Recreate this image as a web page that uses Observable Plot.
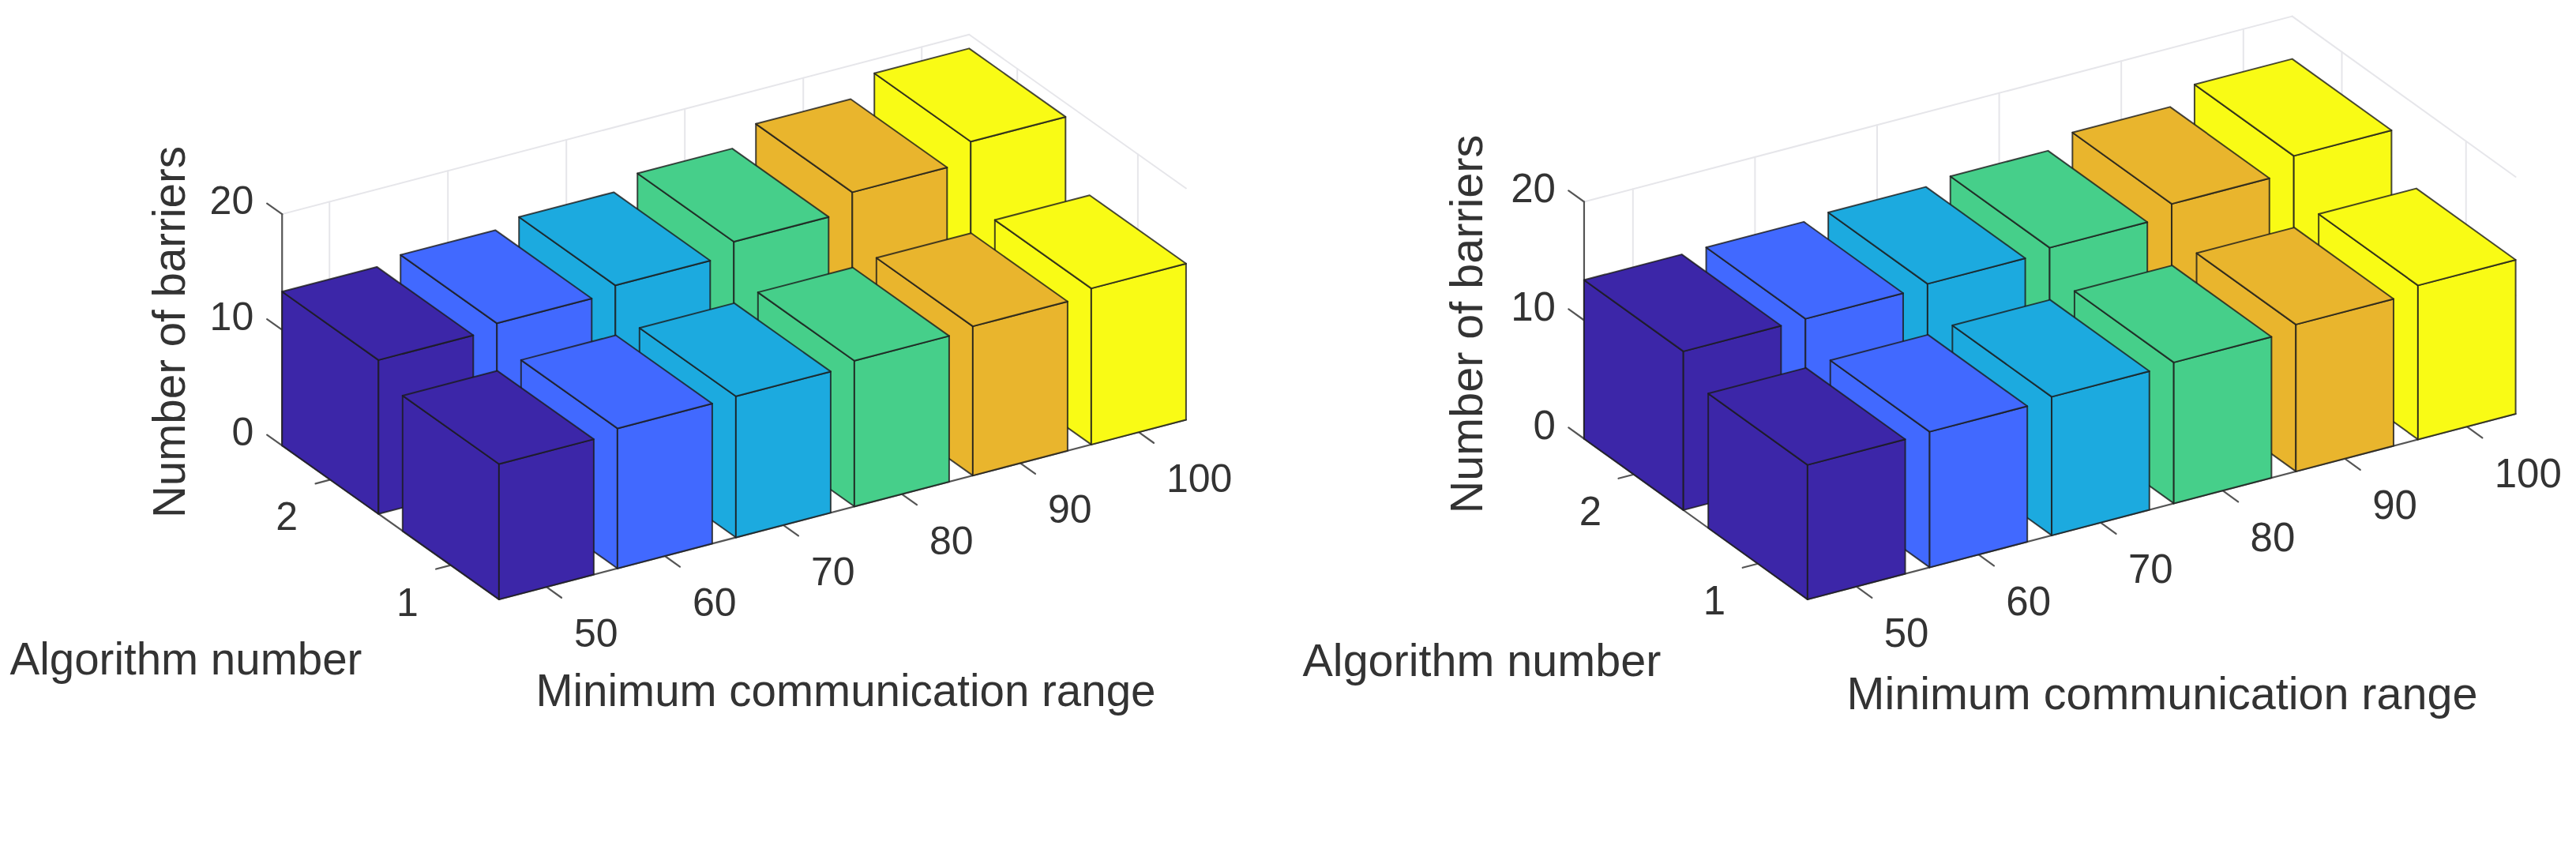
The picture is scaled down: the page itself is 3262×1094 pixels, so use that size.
<!DOCTYPE html>
<html>
<head>
<meta charset="utf-8">
<script src="https://cdn.jsdelivr.net/npm/d3@7"></script>
<script src="https://cdn.jsdelivr.net/npm/@observablehq/plot@0.6"></script>
<style>
  html, body { margin: 0; padding: 0; background: #fff; overflow: hidden; }
  #row { display: flex; width: 3262px; }
  .panel { width: 1631px; position: relative; }
  .panel svg { display: block; }
  .cap { position: absolute; top: 990px; white-space: nowrap; font-family: "Liberation Serif", serif; font-size: 68px; line-height: 90px; color: #000; }
  .cap .par { font-size: 84px; font-weight: 400; }
  .cap b { font-weight: 700; }
</style>
</head>
<body>
<div id="row"></div>
<script>
// ---- data ----
const ranges = [50, 60, 70, 80, 90, 100];
const algorithms = [1, 2];
const zTicks = [0, 10, 20];
const palette = ["#3c26a8", "#4169ff", "#1caadf", "#46cf8a", "#e9b52d", "#f9fb15"];

const panelA_alg1 = [11.7, 12.1, 12.2, 12.6, 12.9, 13.5];
const panelA_alg2 = [13.3, 13.8, 14.4, 15.5, 17.1, 18.8];
const panelB_alg1 = [11.35, 11.45, 11.7, 11.9, 12.4, 13.0];
const panelB_alg2 = [13.4, 13.45, 13.7, 14.05, 15.05, 16.4];

const xTitle = "Minimum communication range";
const yTitle = "Algorithm number";
const zTitle = "Number of barriers";

// oblique view of each panel (screen pixels per data unit)
const viewA = {fx: 631.4, fy: 758.4, ix: 150, iy: -39.2, jx: -152.6, jy: -108.2, kz: 14.65,
  titleZ: [215, 420], titleY: [12, 835], titleX: [678, 875], tick: 50, title: 56.5};
const viewB = {fx: 657.4, fy: 758.4, ix: 154.6, iy: -40.5, jx: -157.2, jy: -113, kz: 15.0,
  titleZ: [227, 410], titleY: [18, 837], titleX: [707, 879], tick: 51, title: 57.5};

const half = 0.4;
const iMin = -half, iMax = ranges.length - 1 + half;
const jMin = -half, jMax = algorithms.length - 1 + half;

function panel(view, alg1, alg2) {
  const px = (i, j) => view.fx + (i - iMin) * view.ix + (j - jMin) * view.jx;
  const py = (i, j, k) => view.fy + (i - iMin) * view.iy + (j - jMin) * view.jy - k * view.kz;
  const pt = (id, i, j, k, extra = {}) => ({id, x: px(i, j), y: py(i, j, k), ...extra});
  const seg = (id, a, b) => [pt(id, ...a), pt(id, ...b)];

  // light grid on the two walls
  const grid = [
    ...ranges.flatMap((_, i) => seg("wb" + i, [i, jMax, 0], [i, jMax, 20])),
    ...algorithms.flatMap((_, j) => seg("wr" + j, [iMax, j, 0], [iMax, j, 20])),
    ...zTicks.flatMap(z => [
      ...seg("hb" + z, [iMin, jMax, z], [iMax, jMax, z]),
      ...seg("hr" + z, [iMax, jMax, z], [iMax, jMin, z])
    ])
  ];

  // dark axis lines and tick marks
  const axes = [
    ...seg("az", [iMin, jMax, 0], [iMin, jMax, 20]),
    ...seg("ay", [iMin, jMax, 0], [iMin, jMin, 0]),
    ...seg("ax", [iMin, jMin, 0], [iMax, jMin, 0]),
    ...zTicks.flatMap(z => seg("tz" + z, [iMin, jMax, z], [iMin, jMax + 0.125, z])),
    ...algorithms.flatMap((_, j) => seg("ty" + j, [iMin, j, 0], [iMin - 0.125, j, 0])),
    ...ranges.flatMap((_, i) => seg("tx" + i, [i, jMin, 0], [i, jMin - 0.125, 0]))
  ];

  // three visible faces of each bar, far bars first
  const faces = [];
  [alg2, alg1].forEach((vals, b) => {
    const j = 1 - b;
    for (let i = ranges.length - 1; i >= 0; i--) {
      const r = ranges[i], h = vals[i];
      const i0 = i - half, i1 = i + half, j0 = j - half, j1 = j + half;
      const poly = (name, corners) => {
        const id = `${j}-${i}-${name}`;
        [...corners, corners[0]].forEach(c => faces.push(pt(id, ...c, {range: r})));
      };
      poly("left", [[i0, j1, 0], [i0, j0, 0], [i0, j0, h], [i0, j1, h]]);
      poly("front", [[i0, j0, 0], [i1, j0, 0], [i1, j0, h], [i0, j0, h]]);
      poly("top", [[i0, j0, h], [i1, j0, h], [i1, j1, h], [i0, j1, h]]);
    }
  });

  const zLabels = zTicks.map(z => ({x: px(iMin, jMax), y: py(iMin, jMax, z), t: String(z)}));
  const yLabels = algorithms.map((a, j) => ({x: px(iMin, j), y: py(iMin, j, 0), t: String(a)}));
  const xLabels = ranges.map((r, i) => ({x: px(i, jMin), y: py(i, jMin, 0), t: String(r)}));

  const font = {fontFamily: "Liberation Sans, Arial, sans-serif", fill: "#333"};
  return Plot.plot({
    width: 1631, height: 960,
    margin: 0,
    x: {domain: [0, 1631], range: [0, 1631], axis: null},
    y: {domain: [0, 960], range: [0, 960], axis: null},
    color: {type: "ordinal", domain: ranges, range: palette},
    style: {background: "transparent"},
    marks: [
      Plot.line(grid, {x: "x", y: "y", z: "id", stroke: "#e6e6ea", strokeWidth: 2}),
      Plot.line(axes, {x: "x", y: "y", z: "id", stroke: "#555", strokeWidth: 2.2}),
      Plot.line(faces, {x: "x", y: "y", z: "id", fill: "range", stroke: "#1c1c1c", strokeOpacity: 0.8, strokeWidth: 2, strokeLinejoin: "round"}),
      Plot.text(zLabels, {x: "x", y: "y", text: "t", dx: -36, dy: -16, textAnchor: "end", fontSize: view.tick, ...font}),
      Plot.text(yLabels, {x: "x", y: "y", text: "t", dx: -55, dy: 48, fontSize: view.tick, ...font}),
      Plot.text(xLabels, {x: "x", y: "y", text: "t", dx: 35, dy: 60, textAnchor: "start", fontSize: view.tick, ...font}),
      Plot.text([zTitle], {x: [view.titleZ[0]], y: [view.titleZ[1]], text: d => d, rotate: -90, fontSize: view.title, ...font}),
      Plot.text([yTitle], {x: [view.titleY[0]], y: [view.titleY[1]], text: d => d, textAnchor: "start", fontSize: view.title, ...font}),
      Plot.text([xTitle], {x: [view.titleX[0]], y: [view.titleX[1]], text: d => d, textAnchor: "start", fontSize: view.title, ...font})
    ]
  });
}

function figure(view, a1, a2, tag, p, capLeft) {
  const d = document.createElement("div");
  d.className = "panel";
  d.appendChild(panel(view, a1, a2));
  const c = document.createElement("div");
  c.className = "cap";
  c.style.left = capLeft + "px";
  c.innerHTML = `<span class="par">(</span><b>${tag}</b><span class="par">)</span> The number of obstacles <i>p</i> = ${p}`;
  d.appendChild(c);
  document.getElementById("row").appendChild(d);
}

figure(viewA, panelA_alg1, panelA_alg2, "a", 1, 333);
figure(viewB, panelB_alg1, panelB_alg2, "b", 2, 333);
</script>
</body>
</html>
